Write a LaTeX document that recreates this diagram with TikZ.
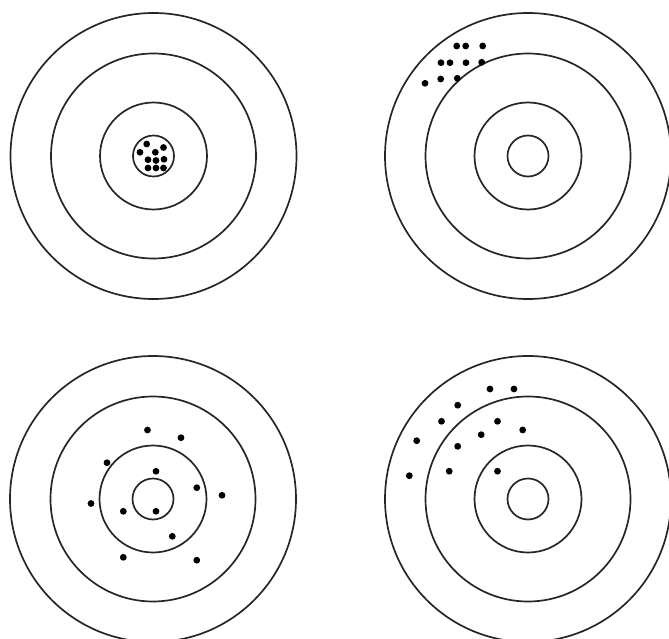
\documentclass[tikz,border=0pt]{standalone}
\begin{document}
\begin{tikzpicture}[x=1pt,y=-1pt,
  ring/.style={draw=black!85,line width=1.7pt},
  shot/.style={fill=black}]
\useasboundingbox (0,0) rectangle (669,639);
\clip (0,0) rectangle (669,639);
\coordinate (tl) at (153.5,156);
\coordinate (tr) at (528,156);
\coordinate (bl) at (153,499);
\coordinate (br) at (528,499);
\foreach \c in {tl,tr,bl,br}{
  \foreach \r in {143,102.5,53.5,20.5}{
    \draw[ring] (\c) circle[radius=\r];
  }
}
% top-left: tight cluster in the centre
\foreach \p in {(146.7,144),(140,152.3),(163.5,147.5),(155.3,152.3),(148,159.7),(156,160.5),(164,159.3),(148,168),(156,168),(163.5,168)}
  \fill[shot] \p circle[radius=3.4];
% top-right: tight cluster off centre
\foreach \p in {(456.7,46),(465.7,46),(482.7,46),(441,62.7),(450,62.7),(466,62.7),(481.7,62.3),(425,83.3),(440.7,79),(457.3,78.3)}
  \fill[shot] \p circle[radius=3.4];
% bottom-left: scattered around the centre
\foreach \p in {(147.5,430),(181,437.7),(107,462.7),(156,471.3),(196.8,487.7),(222,495.3),(91,503.5),(123.3,511.3),(156,511.3),(172.3,536.3),(123.3,557.3),(196.8,560.2)}
  \fill[shot] \p circle[radius=3.4];
% bottom-right: scattered off centre
\foreach \p in {(490,389),(514,389),(457.7,405.2),(441.5,421.3),(497.5,421.3),(522.7,430),(481.2,434.7),(416.7,440.7),(457.7,446.3),(409.3,475.7),(449.2,471.2),(497.5,471.2)}
  \fill[shot] \p circle[radius=3.4];
\end{tikzpicture}
\end{document}
